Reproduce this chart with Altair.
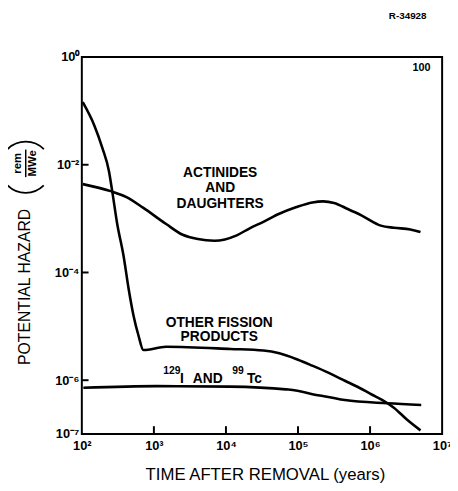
import altair as alt
import pandas as pd

# ---- data ----
ofp_years = [103, 149, 193, 238, 264, 309, 380, 447, 522, 611, 714, 1479, 11500, 33100,
             55000, 100000, 158000, 263000, 447000, 707946, 1070000, 1445440, 2140000,
             3240000, 5010000]
ofp_hazard = [0.145, 0.0537, 0.0204, 7.59e-3, 3.24e-3, 8.13e-4, 2.0e-4, 4.9e-5, 1.58e-5,
              6.76e-6, 3.63e-6, 4.17e-6, 3.80e-6, 3.55e-6, 3.16e-6, 2.40e-6, 1.86e-6,
              1.38e-6, 9.77e-7, 7.24e-7, 5.37e-7, 4.37e-7, 3.09e-7, 1.86e-7, 1.17e-7]

act_years = [103, 251, 417, 714, 1479, 2512, 4074, 6918, 14125, 21380, 33113, 54954, 93325,
             158489, 223872, 316228, 489779, 758578, 1412538, 2137962, 3630781, 5011872]
act_hazard = [4.37e-3, 3.24e-3, 2.51e-3, 1.58e-3, 7.94e-4, 5.01e-4, 4.17e-4, 3.89e-4,
              4.90e-4, 6.61e-4, 8.71e-4, 1.23e-3, 1.62e-3, 2.00e-3, 2.09e-3, 1.95e-3,
              1.51e-3, 1.15e-3, 7.41e-4, 6.76e-4, 6.31e-4, 5.62e-4]

itc_years = [105, 1096, 11220, 67608, 93325, 158489, 263027, 446684, 1737801, 5128614]
itc_hazard = [7.24e-7, 7.76e-7, 7.59e-7, 6.76e-7, 6.46e-7, 5.50e-7, 4.90e-7, 4.27e-7,
              3.72e-7, 3.47e-7]

x_labels = [1e2, 1e3, 1e4, 1e5, 1e6, 1e7]
y_labels = [1, 1e-2, 1e-4, 1e-6, 1e-7]
x_tick_vals = [1e3, 1e4, 1e5, 1e6]
y_tick_vals = [1e-2, 1e-4, 1e-6]
x_tick_base, x_tick_top = 1e-7, 1.4e-7     # inward tick marks on the bottom frame
y_tick_base, y_tick_end = 100, 124         # inward tick marks on the left frame

label_text = ["ACTINIDES", "AND", "DAUGHTERS", "OTHER FISSION", "PRODUCTS"]
label_x = [8318, 8318, 8318, 8072, 8072]
label_y = [6.97e-3, 3.72e-3, 1.86e-3, 1.17e-5, 6.4e-6]

iso_x = 6918
iso_y = 1.05e-6

FONT = "Liberation Sans"

df = pd.concat([
    pd.DataFrame({"years": ofp_years, "hazard": ofp_hazard, "series": "ofp"}),
    pd.DataFrame({"years": act_years, "hazard": act_hazard, "series": "act"}),
    pd.DataFrame({"years": itc_years, "hazard": itc_hazard, "series": "itc"}),
])

xs = alt.Scale(type="log", domain=[100, 1e7], nice=False)
ys = alt.Scale(type="log", domain=[1e-7, 1], nice=False)

x_expr = ("datum.value < 500 ? '10²' : datum.value < 5000 ? '10³' : datum.value < 5e4 ? '10⁴' : "
          "datum.value < 5e5 ? '10⁵' : datum.value < 5e6 ? '10⁶' : '10⁷'")
y_expr = ("datum.value > 0.5 ? '10⁰' : datum.value > 5e-3 ? '10⁻²' : datum.value > 5e-5 ? '10⁻⁴' : "
          "datum.value > 5e-7 ? '10⁻⁶' : '10⁻⁷'")

x_axis = alt.Axis(values=x_labels, labelExpr=x_expr, ticks=False, domain=False, grid=False,
                  labelFont=FONT, labelFontSize=13, labelFontWeight="bold", labelColor="black",
                  labelPadding=6, labelFlush=False,
                  title="TIME AFTER REMOVAL (years)", titleFont=FONT, titleFontSize=17,
                  titleFontWeight="normal", titleColor="black", titleX=186, titleY=46,
                  titleBaseline="alphabetic", titleAlign="center")
y_axis = alt.Axis(values=y_labels, labelExpr=y_expr, ticks=False, domain=False, grid=False,
                  labelFont=FONT, labelFontSize=13, labelFontWeight="bold", labelColor="black",
                  labelPadding=3, labelFlush=False,
                  title="POTENTIAL HAZARD", titleFont=FONT, titleFontSize=16,
                  titleFontWeight="normal", titleColor="black", titleX=-58, titleY=233,
                  titleAngle=270, titleAlign="center", titleBaseline="middle")


def X(field):
    return alt.X(field, type="quantitative", scale=xs, axis=x_axis)


def Y(field):
    return alt.Y(field, type="quantitative", scale=ys, axis=y_axis)


lines = alt.Chart(df).mark_line(color="black", strokeWidth=2.6, interpolate="monotone").encode(
    x=X("years"), y=Y("hazard"), detail="series:N",
)

xt_df = pd.DataFrame({"x": x_tick_vals, "y": x_tick_base, "y2": x_tick_top})
x_ticks = alt.Chart(xt_df).mark_rule(color="black", strokeWidth=2).encode(
    x=X("x"), y=Y("y"), y2="y2:Q",
)
yt_df = pd.DataFrame({"y": y_tick_vals, "x": y_tick_base, "x2": y_tick_end})
y_ticks = alt.Chart(yt_df).mark_rule(color="black", strokeWidth=2).encode(
    y=Y("y"), x=X("x"), x2="x2:Q",
)

labels_df = pd.DataFrame({"label": label_text, "x": label_x, "y": label_y})
labels = alt.Chart(labels_df).mark_text(font=FONT, fontSize=14, fontWeight="bold",
                                        color="black", align="center", baseline="middle").encode(
    x=X("x"), y=Y("y"), text="label:N",
)

iso_df = pd.DataFrame({"x": [iso_x], "y": [iso_y]})
iso_parts = [("129", -52, -8, 10.5), ("I", -35, 0, 14), ("AND", -22, 0, 14),
             ("99", 18, -8, 10.5), ("Tc", 33, 0, 14)]
iso_layers = []
for txt, dx, dy, fs in iso_parts:
    iso_layers.append(
        alt.Chart(iso_df).mark_text(text=txt, dx=dx, dy=dy, font=FONT, fontSize=fs,
                                    fontWeight="bold", color="black", align="left",
                                    baseline="middle").encode(x=X("x"), y=Y("y"))
    )


def ptext(txt, x, y, size, weight="bold", angle=0):
    kw = dict(text=txt, font=FONT, fontSize=size, fontWeight=weight, color="black",
              align="center", baseline="middle")
    if angle:
        kw["angle"] = angle
    return alt.Chart(iso_df).mark_text(**kw).encode(x=alt.value(x), y=alt.value(y))


def paren_arc(t1, t2):
    return alt.Chart(iso_df).mark_arc(radius=26, radius2=26, theta=t1, theta2=t2,
                                      filled=False, stroke="black", strokeWidth=1.8).encode(
        x=alt.value(-57), y=alt.value(112))


extras = [
    ptext("R-34928", 331, -42, 10),
    ptext("100", 345, 11, 11),
    ptext("rem", -65, 108, 11.5, angle=270),
    ptext("MWe", -50, 108, 11.5, angle=270),
    paren_arc(5.50, 7.07),
    paren_arc(2.36, 3.93),
    alt.Chart(iso_df).mark_rule(color="black", strokeWidth=1.5).encode(
        x=alt.value(-57), y=alt.value(94), y2=alt.value(122)),
]

chart = alt.layer(lines, x_ticks, y_ticks, labels, *iso_layers, *extras).properties(
    width=366, height=383,
    padding={"left": 75, "top": 46, "right": 8, "bottom": 52},
    autosize=alt.AutoSizeParams(type="none"),
    background="white",
).configure_view(stroke="black", strokeWidth=2)

chart.save("out.html", embed_options={"renderer": "svg", "actions": False})
